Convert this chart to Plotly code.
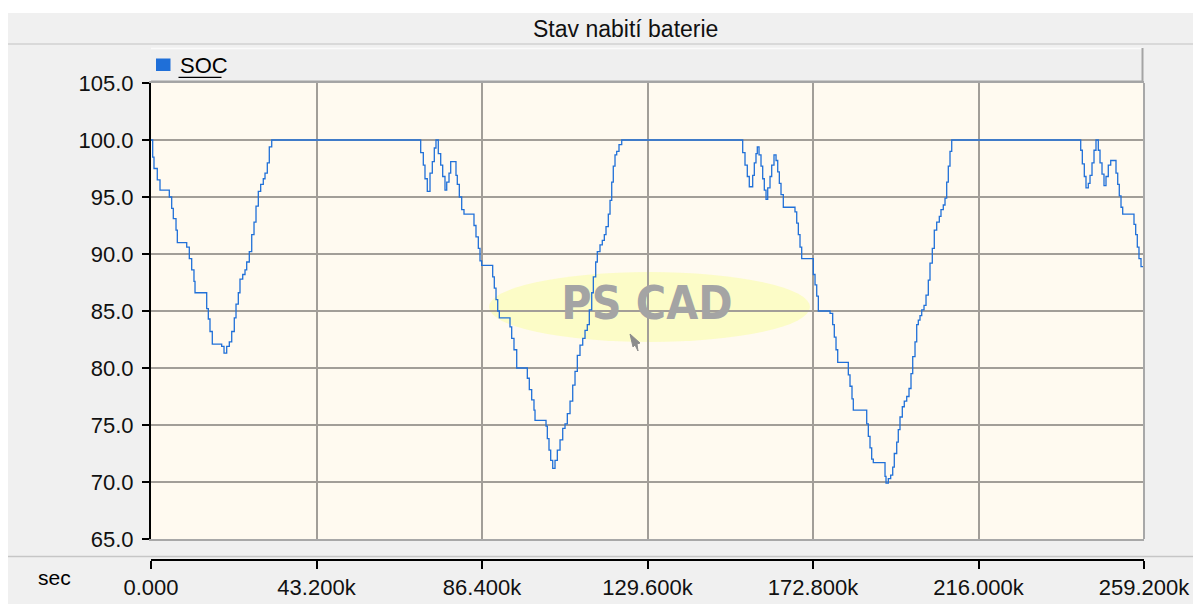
import plotly.graph_objects as go

# ---------------- data ----------------
title_text = "Stav nabití baterie"
series_name = "SOC"
x_unit = "sec"

# time in kiloseconds, SOC in percent (step values)
time_ks = [
    0, 0.44, 0.78, 1.64, 2.35, 4.78, 5.40, 5.82, 6.53, 6.87,
    9.32, 10.00, 10.62, 11.22, 11.49, 14.54, 14.96, 15.40, 16.00, 18.45,
    19.06, 19.76, 20.44, 21.07, 21.74, 22.19, 22.79, 23.23, 23.94, 24.54,
    24.98, 25.66, 26.29, 26.89, 27.41, 28.01, 28.63, 29.31, 29.76, 30.36,
    30.88, 31.51,
    70.40, 71.08, 71.52, 72.12, 72.83, 73.43, 73.95, 74.39, 74.99, 75.62,
    76.14, 76.74, 77.19, 77.79, 78.23, 79.61, 79.95, 80.48, 81.10, 81.70,
    84.31, 84.83, 85.44, 85.88, 86.32, 89.19, 89.61, 90.06, 90.50, 90.92,
    93.71, 94.15, 94.75, 95.46, 98.23, 98.75, 99.37, 99.97, 100.24, 103.11,
    103.45, 103.89, 104.33, 104.86, 105.46, 106.06, 106.77, 107.47, 108.07, 108.67,
    109.38, 110.08, 110.68, 111.28, 111.98, 112.69, 113.29, 113.89, 114.41, 115.04,
    115.46, 116.08, 116.50, 117.20, 117.80, 118.33, 118.77, 119.37, 119.82, 120.26,
    120.67, 121.12, 121.56, 122.16, 122.87,
    154.45, 155.05, 155.65, 156.17, 157.06, 157.48, 157.92, 158.26, 158.71, 159.23,
    159.67, 160.09, 160.54, 160.98, 161.58, 162.02, 162.62, 163.15, 163.59, 164.01,
    164.45, 165.05, 168.10, 168.55, 168.97, 169.41, 169.85, 172.88, 173.33, 173.77,
    174.19, 177.25, 177.94, 178.36, 178.81, 179.25, 182.02, 182.46, 182.98, 183.32,
    186.82, 187.24, 187.68, 188.12, 188.54, 191.60, 191.86, 192.46, 193.08, 193.61,
    194.02, 194.65, 195.06, 195.51, 196.11, 196.63, 197.26, 197.86, 198.38, 198.83,
    199.43, 199.87, 200.29, 200.73, 201.18, 201.78, 202.30, 202.90, 203.34, 203.94,
    204.46, 205.09, 205.77, 206.21, 206.81, 207.26, 207.70, 208.12, 208.56, 209.01,
    242.68, 243.10, 243.62, 244.06, 244.66, 245.11, 245.63, 246.15, 246.67, 247.27,
    247.72, 248.24, 248.76, 249.28, 249.88, 250.51, 251.89, 252.34, 252.75, 253.20,
    253.64, 256.59, 257.03, 257.45, 257.89, 258.42, 259.20,
]
soc_pct = [
    100.0, 98.5, 97.5, 96.5, 95.6, 95.0, 94.0, 93.1, 92.1, 91.0,
    90.6, 89.6, 88.6, 87.6, 86.6, 85.2, 84.3, 83.2, 82.1, 81.9,
    81.3, 81.9, 82.3, 83.2, 84.4, 85.6, 86.6, 87.8, 88.2, 88.6,
    89.3, 90.2, 91.7, 92.8, 94.2, 95.5, 96.1, 96.6, 97.1, 98.0,
    99.4, 100.0,
    98.9, 97.8, 96.6, 95.5, 97.1, 98.1, 99.3, 100.0, 98.8, 97.8,
    96.8, 95.6, 96.3, 97.1, 98.1, 96.9, 96.1, 95.0, 93.9, 93.5,
    92.5, 91.5, 90.5, 89.4, 89.0, 88.0, 87.0, 86.0, 85.0, 84.4,
    83.6, 82.6, 81.6, 80.0, 79.1, 78.1, 77.2, 76.3, 75.4, 74.9,
    73.8, 72.8, 71.9, 71.2, 71.9, 72.8, 73.7, 74.7, 75.1, 76.0,
    77.1, 78.5, 79.7, 81.1, 82.0, 82.6, 83.3, 83.8, 85.1, 86.6,
    88.0, 89.3, 90.2, 90.8, 91.2, 91.7, 92.4, 93.5, 94.7, 96.3,
    97.7, 98.7, 99.0, 99.6, 100.0,
    98.9, 97.8, 96.8, 95.9, 96.9, 98.0, 98.8, 99.4, 98.7, 97.7,
    96.6, 95.6, 94.8, 95.8, 96.8, 97.8, 98.7, 98.2, 97.2, 96.2,
    95.2, 94.1, 93.7, 92.7, 91.7, 90.6, 89.6, 88.2, 87.3, 86.3,
    85.0, 84.8, 83.8, 82.7, 81.6, 80.5, 79.4, 78.4, 77.3, 76.3,
    75.1, 74.0, 73.0, 72.0, 71.7, 70.5, 69.9, 70.3, 70.6, 71.3,
    72.5, 73.5, 74.6, 75.7, 76.6, 77.1, 77.5, 78.2, 79.5, 81.0,
    82.3, 83.8, 84.2, 84.6, 85.1, 85.5, 86.4, 87.7, 89.2, 90.5,
    92.1, 92.8, 93.3, 93.9, 94.3, 94.9, 96.3, 97.7, 99.0, 100.0,
    99.1, 97.9, 96.8, 95.8, 96.2, 96.9, 98.0, 99.1, 100.0, 99.1,
    98.0, 97.0, 96.0, 96.8, 97.8, 98.2, 97.1, 96.1, 95.1, 94.1,
    93.5, 92.6, 91.7, 90.6, 89.6, 88.9, 88.9,
]

x_tick_vals = [0, 43200, 86400, 129600, 172800, 216000, 259200]
x_tick_text = ["0.000", "43.200k", "86.400k", "129.600k", "172.800k", "216.000k", "259.200k"]
y_tick_vals = [65, 70, 75, 80, 85, 90, 95, 100, 105]
x_range = [0, 259200]
y_range = [65, 105]

time_s = [t * 1000 for t in time_ks]

# ---------------- layout geometry (pixels in the window) ----------------
WIN_W, WIN_H = 1193, 604
W, H = WIN_W + 10, WIN_H + 8   # compensate the size lost when the page is shown
L, R = 151, 1144          # plot area left/right
T, B = 83, 560            # paper area top / bottom (x axis line)
PB = 539                  # bottom of the y domain (plot frame)


def px(xp):
    return (xp - L) / (R - L)


def py(yp):
    return (B - yp) / (B - T)


def dy(yp):
    return (PB - yp) / (PB - T)


FONT = "Liberation Sans, Arial, sans-serif"
LINE_BLUE = "#2070d8"
GRID = "#a29e98"

fig = go.Figure()

# watermark text (drawn below the curve)
wm_x = x_range[0] + (647 - L) / (R - L) * (x_range[1] - x_range[0])
wm_y = y_range[0] + dy(307) * (y_range[1] - y_range[0])
fig.add_trace(go.Scatter(
    x=[wm_x], y=[wm_y], mode="text", text=["<b>PS CAD</b>"],
    textfont=dict(size=46, color="#a4a4a4",
                  family="Liberation Sans Narrow, Arial Narrow, DejaVu Sans Condensed, Liberation Sans"),
    hoverinfo="skip", showlegend=False,
))

fig.add_trace(go.Scatter(
    x=time_s, y=soc_pct, mode="lines", name=series_name,
    line=dict(color=LINE_BLUE, width=1.3, shape="hv"),
    showlegend=False,
))

# invisible trace for the separate time axis
fig.add_trace(go.Scatter(
    x=x_range, y=[None, None], xaxis="x2", yaxis="y",
    mode="lines", showlegend=False, hoverinfo="skip",
))

shapes = []
# white strips at top and left of the window
shapes.append(dict(type="rect", xref="paper", yref="paper", layer="below",
                   x0=px(0), x1=px(W), y0=py(13), y1=py(0),
                   fillcolor="white", line=dict(width=0)))
shapes.append(dict(type="rect", xref="paper", yref="paper", layer="below",
                   x0=px(0), x1=px(8), y0=py(H), y1=py(0),
                   fillcolor="white", line=dict(width=0)))
# title separator line
shapes.append(dict(type="line", xref="paper", yref="paper",
                   x0=px(8), x1=px(W), y0=py(44), y1=py(44),
                   line=dict(color="#d2d2d2", width=1.5)))
# bottom separator between graph and time axis
shapes.append(dict(type="line", xref="paper", yref="paper",
                   x0=px(8), x1=px(W), y0=py(556.5), y1=py(556.5),
                   line=dict(color="#c6c6c6", width=1.5)))
# legend bar
shapes.append(dict(type="rect", xref="paper", yref="paper",
                   x0=px(151), x1=px(1143), y0=py(82), y1=py(48),
                   fillcolor="#efefef", line=dict(width=0)))
shapes.append(dict(type="line", xref="paper", yref="paper",
                   x0=px(151), x1=px(1143), y0=py(48.5), y1=py(48.5),
                   line=dict(color="#fbfbfb", width=1.5)))
shapes.append(dict(type="line", xref="paper", yref="paper",
                   x0=px(151), x1=px(1143), y0=py(81.5), y1=py(81.5),
                   line=dict(color="#a4a4a4", width=2)))
shapes.append(dict(type="line", xref="paper", yref="paper",
                   x0=px(1142.5), x1=px(1142.5), y0=py(82), y1=py(48),
                   line=dict(color="#a4a4a4", width=2)))
# legend swatch and underline
shapes.append(dict(type="rect", xref="paper", yref="paper",
                   x0=px(156), x1=px(170.5), y0=py(71), y1=py(58.5),
                   fillcolor="#1f6fd8", line=dict(width=0)))
shapes.append(dict(type="line", xref="paper", yref="paper",
                   x0=px(178.5), x1=px(221.5), y0=py(77.3), y1=py(77.3),
                   line=dict(color="#000000", width=1.2)))
# right border of the plot frame
shapes.append(dict(type="line", xref="x domain", yref="y domain",
                   x0=1, x1=1, y0=0, y1=1,
                   line=dict(color="#a8a8a8", width=2)))
# watermark ellipse (below grid)
shapes.append(dict(type="circle", xref="x domain", yref="y domain", layer="below",
                   x0=(489 - L) / (R - L), x1=(810 - L) / (R - L),
                   y0=dy(342), y1=dy(272),
                   fillcolor="#fcfcc4", opacity=0.95, line=dict(width=0)))
# small cursor glyph of the watermark
shapes.append(dict(type="path", xref="paper", yref="paper",
                   path=(f"M {px(630)},{py(334)} L {px(640)},{py(343)} "
                         f"L {px(637)},{py(344)} L {px(638)},{py(351)} "
                         f"L {px(635)},{py(345)} L {px(633)},{py(347)} Z"),
                   fillcolor="#8c8c8c", line=dict(color="#8c8c8c", width=1)))

annotations = [
    dict(text=title_text, xref="paper", yref="paper", x=px(625), y=py(29),
         xanchor="center", yanchor="middle", showarrow=False,
         font=dict(family=FONT, size=23, color="#111111")),
    dict(text=series_name, xref="paper", yref="paper", x=px(178), y=py(66),
         xanchor="left", yanchor="middle", showarrow=False,
         font=dict(family=FONT, size=22, color="#000000")),
    dict(text=x_unit, xref="paper", yref="paper", x=px(54), y=py(577),
         xanchor="center", yanchor="middle", showarrow=False,
         font=dict(family=FONT, size=21, color="#000000")),
]

fig.update_layout(
    width=W, height=H,
    margin=dict(l=L, r=W - R, t=T, b=H - B, pad=0),
    paper_bgcolor="#f0f0f0",
    plot_bgcolor="#fffaf0",
    showlegend=False,
    shapes=shapes,
    annotations=annotations,
    xaxis=dict(
        range=x_range, domain=[0, 1], anchor="y",
        tickvals=x_tick_vals, showticklabels=False, ticks="",
        showgrid=True, gridcolor=GRID, gridwidth=2,
        showline=True, linecolor="#a8a8a8", linewidth=2, mirror=True,
        zeroline=False, fixedrange=True,
    ),
    xaxis2=dict(
        range=x_range, overlaying="x", anchor="free", position=0, side="bottom",
        tickvals=x_tick_vals, ticktext=x_tick_text,
        ticks="outside", ticklen=8, tickwidth=2, tickcolor="#000000",
        showline=True, linecolor="#000000", linewidth=2,
        showgrid=False, zeroline=False,
        tickfont=dict(family=FONT, size=22, color="#111111"),
    ),
    yaxis=dict(
        range=y_range, domain=[(B - PB) / (B - T), 1],
        tickvals=y_tick_vals, tickformat=".1f",
        ticks="outside", ticklen=7, tickwidth=2, tickcolor="#000000",
        showline=True, linecolor="#000000", linewidth=2,
        showgrid=True, gridcolor=GRID, gridwidth=2, zeroline=False,
        tickfont=dict(family=FONT, size=22, color="#111111"),
        ticklabelstandoff=4,
    ),
)

fig.write_html(
    "out.html",
    config={"displayModeBar": False},
    post_script="document.body.style.margin='0';document.body.style.overflow='hidden';",
)
